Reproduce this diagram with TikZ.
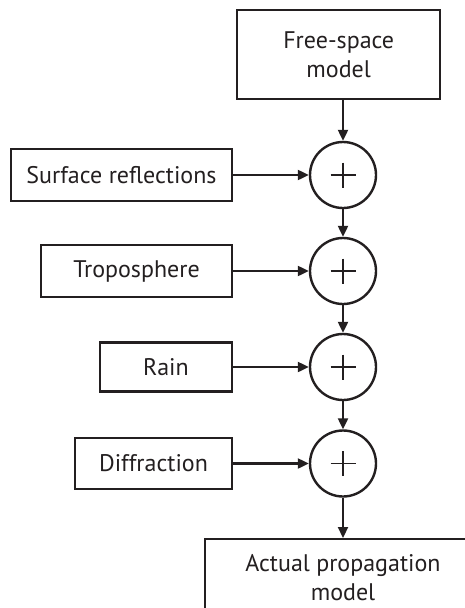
\documentclass[tikz,border=0pt]{standalone}
\usepackage{fontspec}
\setmainfont{PT Sans}
\usetikzlibrary{arrows.meta}
\definecolor{ink}{HTML}{231F20}
\begin{document}
\begin{tikzpicture}[x=1pt,y=-1pt,
  every node/.style={font=\fontsize{24}{28.5}\selectfont, text=ink},
  box/.style={draw=ink, line width=2.4pt, rectangle, inner sep=0pt, align=center},
  sumnode/.style={draw=ink, line width=2.4pt, circle, minimum size=66pt, inner sep=0pt,
    path picture={\draw[ink, line width=1.8pt] (path picture bounding box.center) ++(-12.5,0) -- ++(25,0)
      (path picture bounding box.center) ++(0,-12.5) -- ++(0,25);}},
  flow/.style={draw=ink, line width=2.2pt, -{Triangle[length=11pt,width=10pt]}}]
\useasboundingbox (0,0) rectangle (465,608);
\clip (0,0) rectangle (465,608);
\node[box, minimum width=203pt, minimum height=89pt] (free) at (338.7,54.5) {Free-space\\model};
\node[sumnode] (s1) at (343,175) {};
\node[sumnode] (s2) at (343,271) {};
\node[sumnode] (s3) at (343,367) {};
\node[sumnode] (s4) at (343,463.5) {};
\node[box, minimum width=221pt, minimum height=52pt] (surf) at (121.5,175) {Surface reflections};
\node[box, minimum width=191pt, minimum height=52pt] (trop) at (136.5,271) {Troposphere};
\node[box, minimum width=132pt, minimum height=49pt] (rain) at (166,367) {Rain};
\node[box, minimum width=157pt, minimum height=51pt] (diff) at (153.5,463.5) {Diffraction};
\node[box, minimum width=276pt, minimum height=77pt, anchor=north] (act) at (343,538) {Actual propagation\\model};
\draw[flow] (s1 |- free.south) -- (s1.north);
\draw[flow] (surf.east) -- (s1.west);
\draw[flow] (trop.east) -- (s2.west);
\draw[flow] (rain.east) -- (s3.west);
\draw[flow] (diff.east) -- (s4.west);
\draw[flow] (s1.south) -- (s2.north);
\draw[flow] (s2.south) -- (s3.north);
\draw[flow] (s3.south) -- (s4.north);
\draw[flow] (s4.south) -- (act.north);
\end{tikzpicture}
\end{document}
